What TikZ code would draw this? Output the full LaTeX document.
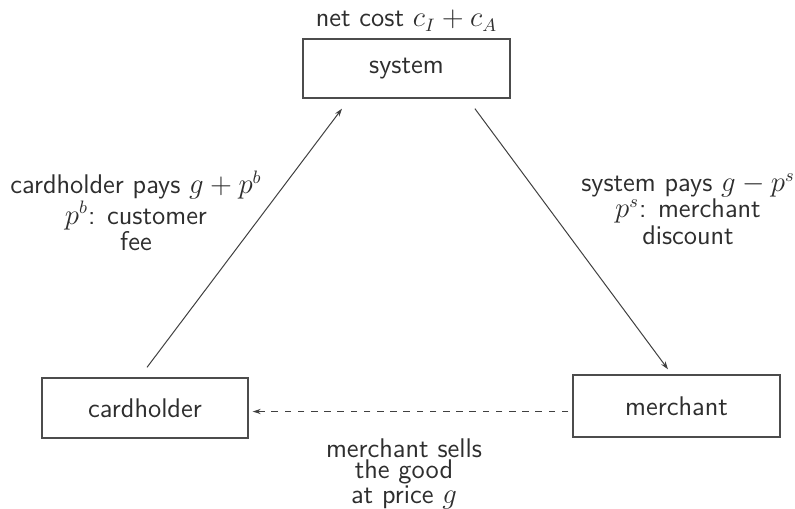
\documentclass[tikz,border=0pt]{standalone}
\usetikzlibrary{arrows.meta}
\begin{document}
\begin{tikzpicture}[x=0.5pt,y=-0.5pt,
  every node/.style={font=\sffamily\fontsize{13.5}{10.6}\selectfont, text=black!82},
  party/.style={draw=black!70, line width=0.7pt, rectangle, inner sep=0pt},
  flow/.style={draw=black!75, line width=0.5pt, -{Stealth[length=4pt,width=2.6pt]}},
  lbl/.style={align=center, inner sep=0pt}]
  \useasboundingbox (0,0) rectangle (795,508);

  % the three parties
  \node[party, minimum width=103.5pt, minimum height=29.5pt] (sys) at (406.5,68.5) {system};
  \node[party, minimum width=103pt, minimum height=30pt] (card) at (145,408) {cardholder};
  \node[party, minimum width=103.5pt, minimum height=31pt] (merch) at (676.5,406) {merchant};

  \node[anchor=base, inner sep=0pt] (cost) at (406.5,27) {net cost $c_I + c_A$};

  % payment flows
  \draw[flow, shorten <=6.25pt, shorten >=6.25pt]
    ([xshift=-2.75pt]card.north) -- ([xshift=-28.5pt]sys.south);
  \draw[flow, shorten <=6.2pt, shorten >=3.1pt]
    ([xshift=30.5pt]sys.south) -- ([xshift=-2.4pt]merch.north);

  % delivery of the good
  \coordinate (dstart) at ([xshift=-2pt,yshift=-2.75pt]merch.west);
  \coordinate (dend) at ([xshift=2pt]dstart -| card.east);
  \draw[flow, dash pattern=on 3.3pt off 3.3pt] (dstart) -- (dend);

  % flow descriptions
  \node[lbl] (lpay) at (136,211) {cardholder pays $g + p^b$\\ $p^b$: customer\\ fee};
  \node[lbl] (rpay) at (688,209) {system pays $g - p^s$\\ $p^s$: merchant\\ discount};
  \node[lbl] (sell) at (404,474) {merchant sells\\ the good\\ at price $g$};
\end{tikzpicture}
\end{document}
